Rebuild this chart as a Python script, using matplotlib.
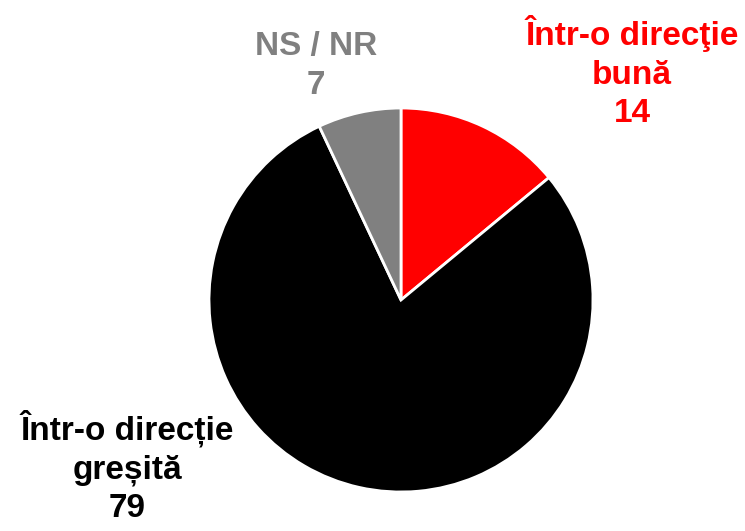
import matplotlib.pyplot as plt

labels = ['Într-o direcţie\nbună', 'Într-o direcție\ngreșită', 'NS / NR']
values = [14, 79, 7]
colors = ['#ff0000', '#000000', '#808080']
label_pos = [(632, 72), (127, 467), (316, 66)]

W, H = 745, 531
fig = plt.figure(figsize=(W / 100, H / 100), dpi=100)
ax = fig.add_axes([0, 0, 1, 1])
ax.set_xlim(0, W)
ax.set_ylim(0, H)
ax.set_aspect('equal')
ax.axis('off')

ax.pie(values, colors=colors, startangle=90, counterclock=False,
       center=(401, H - 300), radius=192,
       wedgeprops=dict(edgecolor='white', linewidth=2))
ax.set_xlim(0, W)
ax.set_ylim(0, H)

for lab, val, col, (x, y) in zip(labels, values, colors, label_pos):
    ax.text(x, H - y, f'{lab}\n{val}', color=col, ha='center', va='center',
            fontsize=24, fontweight='bold', family=['Liberation Sans', 'DejaVu Sans'],
            linespacing=1.3)

fig.savefig('out.png', dpi=100)
